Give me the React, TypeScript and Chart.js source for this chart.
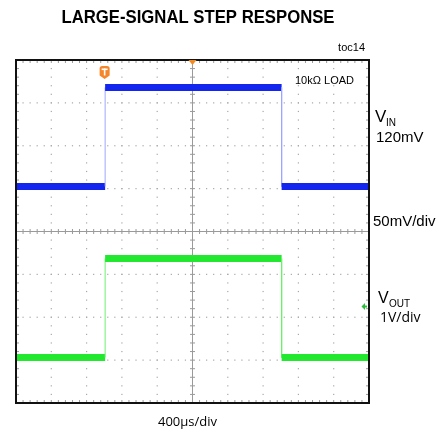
import React, { useEffect, useRef } from "react";
import { Chart, registerables } from "chart.js";

Chart.register(...registerables);

// time axis, µs (400 µs/div, 10 divisions)
const timeUs = [0, 1010, 1010, 3010, 3010, 4000];
// VIN trace position, in screen divisions (50mV/div)
const vinDiv = [1.05, 1.05, 3.36, 3.36, 1.05, 1.05];
// VOUT trace position, in screen divisions (1V/div)
const voutDiv = [-2.94, -2.94, -0.63, -0.63, -2.94, -2.94];

const xDivs = [0, 400, 800, 1200, 1600, 2000, 2400, 2800, 3200, 3600, 4000];
const yDivs = [-4, -3, -2, -1, 0, 1, 2, 3, 4];

const titleText = "LARGE-SIGNAL STEP RESPONSE";
const tocText = "toc14";
const loadText = "10kΩ LOAD";
const vinScaleText = "120mV";
const vinDivText = "50mV/div";
const voutDivText = "1V/div";
const timeDivText = "400µs/div";
const triggerTime = 1010;
const voutGroundDiv = -1.75;

const SANS = "'Liberation Sans', Arial, sans-serif";

const scopePlugin = {
  id: "scope",
  beforeDatasetsDraw(chart: any) {
    const { ctx, chartArea: a, scales } = chart;
    const xs = scales.x;
    const ys = scales.y;
    const xStep = (xs.getPixelForValue(400) - xs.getPixelForValue(0)) / 5;
    const yStep = (ys.getPixelForValue(0) - ys.getPixelForValue(0.2));
    ctx.save();
    ctx.fillStyle = "#a8a8a8";
    xDivs.forEach((v) => {
      if (v === 0 || v === 4000 || v === 2000) return;
      const px = xs.getPixelForValue(v);
      for (let y = a.top; y <= a.bottom; y += yStep) ctx.fillRect(px - 0.6, y - 0.6, 1.2, 1.2);
    });
    yDivs.forEach((v) => {
      if (v === -4 || v === 4 || v === 0) return;
      const py = ys.getPixelForValue(v);
      for (let x = a.left; x <= a.right; x += xStep) ctx.fillRect(x - 0.6, py - 0.6, 1.2, 1.2);
    });
    ctx.strokeStyle = "#9a9a9a";
    ctx.lineWidth = 1;
    const cx = xs.getPixelForValue(2000);
    const cy = ys.getPixelForValue(0);
    ctx.beginPath();
    ctx.moveTo(cx, a.top);
    ctx.lineTo(cx, a.bottom);
    ctx.moveTo(a.left, cy);
    ctx.lineTo(a.right, cy);
    for (let y = a.top; y <= a.bottom + 0.1; y += yStep) {
      ctx.moveTo(cx - 2.5, y);
      ctx.lineTo(cx + 2.5, y);
      ctx.moveTo(a.left, y);
      ctx.lineTo(a.left + 3, y);
      ctx.moveTo(a.right, y);
      ctx.lineTo(a.right - 3, y);
    }
    for (let x = a.left; x <= a.right + 0.1; x += xStep) {
      ctx.moveTo(x, cy - 2.5);
      ctx.lineTo(x, cy + 2.5);
      ctx.moveTo(x, a.top);
      ctx.lineTo(x, a.top + 3);
      ctx.moveTo(x, a.bottom);
      ctx.lineTo(x, a.bottom - 3);
    }
    ctx.stroke();
    ctx.restore();
  },
  afterDatasetsDraw(chart: any) {
    const { ctx, chartArea: a, scales } = chart;
    const xs = scales.x;
    const ys = scales.y;
    ctx.save();
    ctx.strokeStyle = "#111";
    ctx.lineWidth = 2;
    ctx.strokeRect(a.left, a.top, a.right - a.left, a.bottom - a.top);

    const cx = xs.getPixelForValue(2000);
    ctx.fillStyle = "#f08a24";
    ctx.beginPath();
    ctx.moveTo(cx - 4, a.top);
    ctx.lineTo(cx + 4, a.top);
    ctx.lineTo(cx, a.top + 5);
    ctx.closePath();
    ctx.fill();

    // trigger "T" marker
    const tx = xs.getPixelForValue(triggerTime) - 0.5;
    const ty = a.top + 6;
    ctx.fillStyle = "#f5862a";
    ctx.beginPath();
    ctx.moveTo(tx - 5, ty + 2.5);
    ctx.quadraticCurveTo(tx - 5, ty, tx - 2.5, ty);
    ctx.lineTo(tx + 2.5, ty);
    ctx.quadraticCurveTo(tx + 5, ty, tx + 5, ty + 2.5);
    ctx.lineTo(tx + 5, ty + 9.5);
    ctx.lineTo(tx, ty + 13);
    ctx.lineTo(tx - 5, ty + 9.5);
    ctx.closePath();
    ctx.fill();
    ctx.fillStyle = "#fff";
    ctx.fillRect(tx - 3, ty + 2.5, 6, 1.6);
    ctx.fillRect(tx - 0.8, ty + 2.5, 1.6, 7);

    const gy = ys.getPixelForValue(voutGroundDiv);
    const gx = a.right - 4;
    ctx.fillStyle = "#2bbf3a";
    ctx.beginPath();
    ctx.moveTo(gx - 3.5, gy);
    ctx.lineTo(gx, gy - 3.5);
    ctx.lineTo(gx, gy + 3.5);
    ctx.closePath();
    ctx.fill();
    ctx.fillRect(gx - 1, gy - 1, 3, 2);

    ctx.fillStyle = "#000";
    ctx.textBaseline = "alphabetic";
    ctx.textAlign = "center";
    ctx.font = "bold 19px 'Liberation Sans Narrow', 'Arial Narrow', 'Liberation Sans', sans-serif";
    const tw = ctx.measureText(titleText).width;
    const target = 273;
    ctx.save();
    ctx.translate(198, 23);
    ctx.scale(target / tw, 1);
    ctx.fillText(titleText, 0, 0);
    ctx.restore();

    ctx.textAlign = "right";
    ctx.font = "11px " + SANS;
    ctx.fillText(tocText, 365, 51);

    ctx.textAlign = "left";
    ctx.font = "11px " + SANS;
    ctx.fillText(loadText, 295, 84);

    ctx.font = "17px " + SANS;
    ctx.fillText("V", 375, 122);
    ctx.font = "10px " + SANS;
    ctx.fillText("IN", 386, 126);
    ctx.font = "15px " + SANS;
    ctx.fillText(vinScaleText, 376, 142);
    ctx.fillText(vinDivText, 373, 226);

    ctx.font = "16px " + SANS;
    ctx.fillText("V", 378, 303);
    ctx.font = "10px " + SANS;
    ctx.fillText("OUT", 389, 307);
    ctx.font = "14px 'Open Sans', sans-serif";
    ctx.fillText(voutDivText, 380, 322);
    ctx.font = "13px 'Open Sans', sans-serif";
    ctx.fillText(timeDivText, 158, 426);
    ctx.restore();
  },
};

const vertical = (c: any) => c.p0.parsed.x === c.p1.parsed.x;

export default function App() {
  const ref = useRef<HTMLCanvasElement | null>(null);
  useEffect(() => {
    if (!ref.current) return;
    const chart = new Chart(ref.current, {
      type: "line",
      data: {
        datasets: [
          {
            label: "VIN",
            data: timeUs.map((t, i) => ({ x: t, y: vinDiv[i] })),
            borderColor: "#1226ee",
            borderWidth: 7,
            pointRadius: 0,
            borderCapStyle: "butt",
            segment: {
              borderWidth: (c: any) => (vertical(c) ? 1 : 7),
              borderColor: (c: any) => (vertical(c) ? "#9ea6ff" : "#1226ee"),
            },
          },
          {
            label: "VOUT",
            data: timeUs.map((t, i) => ({ x: t, y: voutDiv[i] })),
            borderColor: "#22e830",
            borderWidth: 7,
            pointRadius: 0,
            borderCapStyle: "butt",
            segment: {
              borderWidth: (c: any) => (vertical(c) ? 1 : 7),
              borderColor: (c: any) => (vertical(c) ? "#6cf06c" : "#22e830"),
            },
          },
        ],
      },
      options: {
        animation: false,
        responsive: true,
        maintainAspectRatio: false,
        layout: { padding: { left: 16, top: 60, right: 70, bottom: 29 } },
        plugins: { legend: { display: false }, tooltip: { enabled: false }, title: { display: false } },
        scales: {
          x: { type: "linear", min: 0, max: 4000, display: false },
          y: { type: "linear", min: -4, max: 4, display: false },
        },
      },
      plugins: [scopePlugin],
    } as any);
    return () => chart.destroy();
  }, []);
  return (
    <div style={{ position: "fixed", left: 0, top: 0, width: 439, height: 432, background: "#fff" }}>
      <canvas ref={ref} />
    </div>
  );
}
